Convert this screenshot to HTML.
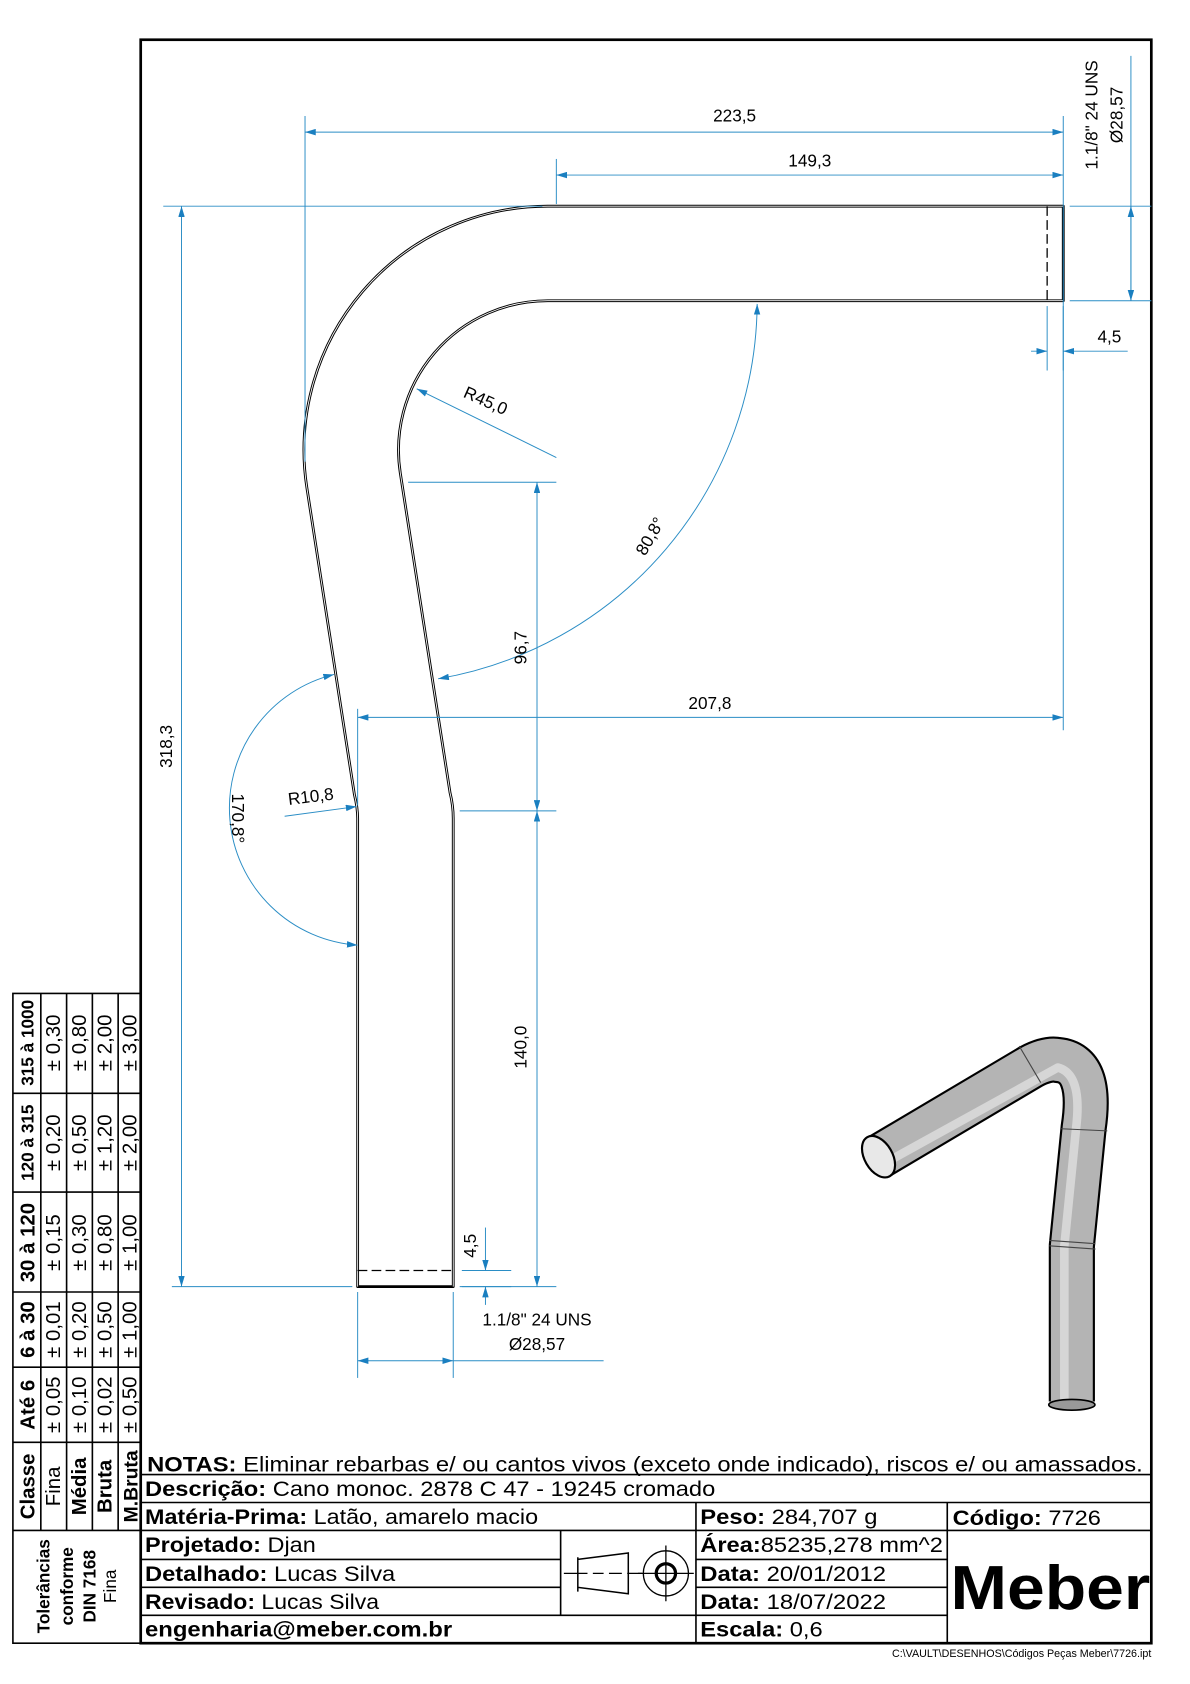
<!DOCTYPE html>
<html><head><meta charset="utf-8"><style>
html,body{margin:0;padding:0;background:#fff;}
svg{display:block;}
text{font-family:"Liberation Sans",Arial,sans-serif;}
.d{fill:#000;font-size:16px;}
.t{font-size:20px;fill:#000;}
.b{font-weight:bold;}
</style></head><body>
<svg width="1190" height="1684" viewBox="0 0 1108 1568" xmlns="http://www.w3.org/2000/svg">
<defs>
<marker id="a" viewBox="0 0 10 6" refX="10" refY="3" markerWidth="10" markerHeight="6" orient="auto-start-reverse" markerUnits="userSpaceOnUse"><path d="M0,0 L10,3 L0,6 z" fill="#1a7fc0"/></marker>
</defs>
<rect x="131" y="37" width="941" height="1493" fill="none" stroke="#000" stroke-width="2.5"/>

<!-- pipe -->
<g fill="none" stroke-linejoin="round">
<path d="M990,192 L510,192 A227,227 0 0 0 285.7,454 L330,740 Q333,752 333,762 L333,1198 L422,1198 L422,762 Q422,750 419,738 L372.7,440.4 A139,139 0 0 1 510,280 L990,280 Z" stroke="#000" stroke-width="2.6"/>
<path d="M990,192 L510,192 A227,227 0 0 0 285.7,454 L330,740 Q333,752 333,762 L333,1198 M422,1198 L422,762 Q422,750 419,738 L372.7,440.4 A139,139 0 0 1 510,280 L990,280" stroke="#fff" stroke-width="0.8"/>
<path d="M975,192 V280 M333,1183 H422" stroke="#000" stroke-width="1.2" stroke-dasharray="9,4"/>
</g>

<!-- dimensions -->
<g stroke="#2a8dc5" stroke-width="0.9" fill="none">
<line x1="284" y1="108" x2="284" y2="430"/>
<line x1="990" y1="108" x2="990" y2="680"/>
<line x1="284" y1="123" x2="990" y2="123" marker-start="url(#a)" marker-end="url(#a)"/>
<line x1="518" y1="148" x2="518" y2="190"/>
<line x1="518" y1="163" x2="990" y2="163" marker-start="url(#a)" marker-end="url(#a)"/>
<line x1="996" y1="192" x2="1072" y2="192"/>
<line x1="996" y1="280" x2="1072" y2="280"/>
<line x1="1053" y1="52" x2="1053" y2="280"/>
<line x1="1053" y1="236" x2="1053" y2="192" marker-end="url(#a)"/>
<line x1="1053" y1="236" x2="1053" y2="280" marker-end="url(#a)"/>
<line x1="975" y1="285" x2="975" y2="345"/>
<line x1="990" y1="285" x2="990" y2="345"/>
<line x1="960" y1="327" x2="975" y2="327" marker-end="url(#a)"/>
<line x1="1050" y1="327" x2="990" y2="327" marker-end="url(#a)"/>
<line x1="152" y1="192" x2="505" y2="192"/>
<line x1="160" y1="1198" x2="328" y2="1198"/>
<line x1="169" y1="192" x2="169" y2="1198" marker-start="url(#a)" marker-end="url(#a)"/>
<line x1="518" y1="426" x2="388" y2="362" marker-end="url(#a)"/>
<line x1="380" y1="449" x2="518" y2="449"/>
<line x1="428" y1="755" x2="518" y2="755"/>
<line x1="500" y1="449" x2="500" y2="755" marker-start="url(#a)" marker-end="url(#a)"/>
<line x1="500" y1="755" x2="500" y2="1198" marker-start="url(#a)" marker-end="url(#a)"/>
<line x1="428" y1="1198" x2="518" y2="1198"/>
<path d="M705,283 A357,357 0 0 1 408,632" marker-start="url(#a)" marker-end="url(#a)"/>
<path d="M311,628 A128,128 0 0 0 333,880" marker-start="url(#a)" marker-end="url(#a)"/>
<line x1="265" y1="760" x2="332" y2="751" marker-end="url(#a)"/>
<line x1="333" y1="660" x2="333" y2="750"/>
<line x1="333" y1="668" x2="990" y2="668" marker-start="url(#a)" marker-end="url(#a)"/>
<line x1="430" y1="1183" x2="476" y2="1183"/>
<line x1="430" y1="1198" x2="476" y2="1198"/>
<line x1="452" y1="1143" x2="452" y2="1183" marker-end="url(#a)"/>
<line x1="452" y1="1215" x2="452" y2="1198" marker-end="url(#a)"/>
<line x1="333" y1="1203" x2="333" y2="1283"/>
<line x1="422" y1="1203" x2="422" y2="1283"/>
<line x1="333" y1="1267" x2="422" y2="1267" marker-start="url(#a)" marker-end="url(#a)"/>
<line x1="422" y1="1267" x2="562" y2="1267"/>
</g>
<g class="d">
<text x="684" y="113" text-anchor="middle">223,5</text>
<text x="754" y="155" text-anchor="middle">149,3</text>
<text transform="translate(1022,107) rotate(-90)" text-anchor="middle">1.1/8" 24 UNS</text>
<text transform="translate(1045,107) rotate(-90)" text-anchor="middle">Ø28,57</text>
<text x="1033" y="319" text-anchor="middle">4,5</text>
<text transform="translate(160,695) rotate(-90)" text-anchor="middle">318,3</text>
<text transform="translate(450,378) rotate(24)" text-anchor="middle">R45,0</text>
<text transform="translate(490,603) rotate(-90)" text-anchor="middle">96,7</text>
<text transform="translate(610,502) rotate(-60)" text-anchor="middle">80,8°</text>
<text transform="translate(216,762) rotate(90)" text-anchor="middle">170,8°</text>
<text transform="translate(290,747) rotate(-7)" text-anchor="middle">R10,8</text>
<text x="661" y="660" text-anchor="middle">207,8</text>
<text transform="translate(490,975) rotate(-90)" text-anchor="middle">140,0</text>
<text transform="translate(443,1160) rotate(-90)" text-anchor="middle">4,5</text>
<text x="500" y="1234" text-anchor="middle">1.1/8" 24 UNS</text>
<text x="500" y="1257" text-anchor="middle">Ø28,57</text>
</g>

<!-- 3D tube -->
<g fill="none" stroke-linecap="butt" stroke-linejoin="round">
<path d="M998,1305 L998,1160 L1009,1050 Q1018,990 985,987 Q975,985 960,993 L820,1076" stroke="#000" stroke-width="43"/>
<path d="M998,1305 L998,1160 L1009,1050 Q1018,990 985,987 Q975,985 960,993 L820,1076" stroke="#b4b4b4" stroke-width="39"/>
<path d="M991,1305 L991,1160 L1002,1050 Q1008,1000 985,994 L822,1084" stroke="#d6d6d6" stroke-width="8"/>
<line x1="977" y1="1160" x2="1020" y2="1163" stroke="#444" stroke-width="1"/>
<line x1="977" y1="1155" x2="1020" y2="1158" stroke="#444" stroke-width="1"/>
<line x1="988" y1="1051" x2="1031" y2="1053" stroke="#444" stroke-width="1"/>
<line x1="949" y1="974" x2="969" y2="1008" stroke="#444" stroke-width="1"/>
</g>
<ellipse cx="998" cy="1308" rx="21.5" ry="5" fill="#999" stroke="#000" stroke-width="1.5"/>
<ellipse cx="818" cy="1077" rx="21" ry="13" transform="rotate(60 818 1077)" fill="#e8e8e8" stroke="#000" stroke-width="2"/>

<!-- tolerance table -->
<g stroke="#000" stroke-width="1.5" fill="none">
<rect x="12" y="925" width="119" height="605"/>
<path d="M12,1018H131M12,1110H131M12,1203H131M12,1273H131M12,1343H131M12,1425H131"/>
<path d="M38,925V1425M62,925V1425M86,925V1425M110,925V1425"/>
</g>
<g font-size="19">
<g class="b">
<text transform="translate(31,971) rotate(-90)" text-anchor="middle" font-size="16">315 à 1000</text>
<text transform="translate(31,1064) rotate(-90)" text-anchor="middle" font-size="16">120 à 315</text>
<text transform="translate(32,1157) rotate(-90)" text-anchor="middle">30 à 120</text>
<text transform="translate(32,1238) rotate(-90)" text-anchor="middle">6 à 30</text>
<text transform="translate(32,1308) rotate(-90)" text-anchor="middle">Até 6</text>
<text transform="translate(32,1384) rotate(-90)" text-anchor="middle">Classe</text>
</g>
<text transform="translate(56,971) rotate(-90)" text-anchor="middle">± 0,30</text>
<text transform="translate(80,971) rotate(-90)" text-anchor="middle">± 0,80</text>
<text transform="translate(104,971) rotate(-90)" text-anchor="middle">± 2,00</text>
<text transform="translate(127,971) rotate(-90)" text-anchor="middle">± 3,00</text>
<text transform="translate(56,1064) rotate(-90)" text-anchor="middle">± 0,20</text>
<text transform="translate(80,1064) rotate(-90)" text-anchor="middle">± 0,50</text>
<text transform="translate(104,1064) rotate(-90)" text-anchor="middle">± 1,20</text>
<text transform="translate(127,1064) rotate(-90)" text-anchor="middle">± 2,00</text>
<text transform="translate(56,1157) rotate(-90)" text-anchor="middle">± 0,15</text>
<text transform="translate(80,1157) rotate(-90)" text-anchor="middle">± 0,30</text>
<text transform="translate(104,1157) rotate(-90)" text-anchor="middle">± 0,80</text>
<text transform="translate(127,1157) rotate(-90)" text-anchor="middle">± 1,00</text>
<text transform="translate(56,1238) rotate(-90)" text-anchor="middle">± 0,01</text>
<text transform="translate(80,1238) rotate(-90)" text-anchor="middle">± 0,20</text>
<text transform="translate(104,1238) rotate(-90)" text-anchor="middle">± 0,50</text>
<text transform="translate(127,1238) rotate(-90)" text-anchor="middle">± 1,00</text>
<text transform="translate(56,1308) rotate(-90)" text-anchor="middle">± 0,05</text>
<text transform="translate(80,1308) rotate(-90)" text-anchor="middle">± 0,10</text>
<text transform="translate(104,1308) rotate(-90)" text-anchor="middle">± 0,02</text>
<text transform="translate(127,1308) rotate(-90)" text-anchor="middle">± 0,50</text>
<text transform="translate(56,1384) rotate(-90)" text-anchor="middle">Fina</text>
<g class="b">
<text transform="translate(80,1384) rotate(-90)" text-anchor="middle">Média</text>
<text transform="translate(104,1384) rotate(-90)" text-anchor="middle">Bruta</text>
<text transform="translate(128,1384) rotate(-90)" text-anchor="middle" font-size="18">M.Bruta</text>
</g>
<g font-size="16">
<text class="b" transform="translate(46,1477) rotate(-90)" text-anchor="middle">Tolerâncias</text>
<text class="b" transform="translate(68,1477) rotate(-90)" text-anchor="middle">conforme</text>
<text class="b" transform="translate(89,1477) rotate(-90)" text-anchor="middle">DIN 7168</text>
<text transform="translate(108,1477) rotate(-90)" text-anchor="middle">Fina</text>
</g>
</g>

<!-- title block -->
<g stroke="#000" stroke-width="1.5" fill="none">
<path d="M131,1373H1072M131,1399H1072M131,1425H882M882,1425H1072M131,1452H522M648,1452H882M131,1478H522M648,1478H882M131,1504H882"/>
<path d="M648,1399V1530M882,1399V1530M522,1425V1504"/>
<path d="M538,1452 L585,1446 L585,1484 L538,1478 Z M538,1450 V1482" stroke-width="1.4"/>
<path d="M525,1465 H547 M552,1465 H562 M567,1465 H579 M584,1465 H598" stroke-width="1.2"/>
<circle cx="620" cy="1465" r="21" stroke-width="1.2"/>
<circle cx="620" cy="1465" r="9" stroke-width="3"/>
<path d="M594,1465H646M620,1439V1491" stroke-width="1.2"/>
</g>
<g class="t">
<text x="137" y="1370" textLength="927" lengthAdjust="spacingAndGlyphs"><tspan class="b">NOTAS:</tspan> Eliminar rebarbas e/ ou cantos vivos (exceto onde indicado), riscos e/ ou amassados.</text>
<text x="135" y="1393" textLength="531" lengthAdjust="spacingAndGlyphs"><tspan class="b">Descrição:</tspan> Cano monoc. 2878 C 47 - 19245 cromado</text>
<text x="135" y="1419" textLength="366" lengthAdjust="spacingAndGlyphs"><tspan class="b">Matéria-Prima:</tspan> Latão, amarelo macio</text>
<text x="135" y="1445" textLength="159" lengthAdjust="spacingAndGlyphs"><tspan class="b">Projetado:</tspan> Djan</text>
<text x="135" y="1472" textLength="233" lengthAdjust="spacingAndGlyphs"><tspan class="b">Detalhado:</tspan> Lucas Silva</text>
<text x="135" y="1498" textLength="218" lengthAdjust="spacingAndGlyphs"><tspan class="b">Revisado:</tspan> Lucas Silva</text>
<text x="135" y="1524" class="b" textLength="286" lengthAdjust="spacingAndGlyphs">engenharia@meber.com.br</text>
<text x="652" y="1419" textLength="165" lengthAdjust="spacingAndGlyphs"><tspan class="b">Peso:</tspan> 284,707 g</text>
<text x="652" y="1445" textLength="226" lengthAdjust="spacingAndGlyphs"><tspan class="b">Área:</tspan>85235,278 mm^2</text>
<text x="652" y="1472" textLength="173" lengthAdjust="spacingAndGlyphs"><tspan class="b">Data:</tspan> 20/01/2012</text>
<text x="652" y="1498" textLength="173" lengthAdjust="spacingAndGlyphs"><tspan class="b">Data:</tspan> 18/07/2022</text>
<text x="652" y="1524" textLength="114" lengthAdjust="spacingAndGlyphs"><tspan class="b">Escala:</tspan> 0,6</text>
<text x="887" y="1420" textLength="138" lengthAdjust="spacingAndGlyphs"><tspan class="b">Código:</tspan> 7726</text>
<text x="885" y="1498" font-size="58" class="b" textLength="186" lengthAdjust="spacingAndGlyphs">Meber</text>
</g>
<text x="1072" y="1543" font-size="10" text-anchor="end">C:\VAULT\DESENHOS\Códigos Peças Meber\7726.ipt</text>
</svg>
</body></html>
